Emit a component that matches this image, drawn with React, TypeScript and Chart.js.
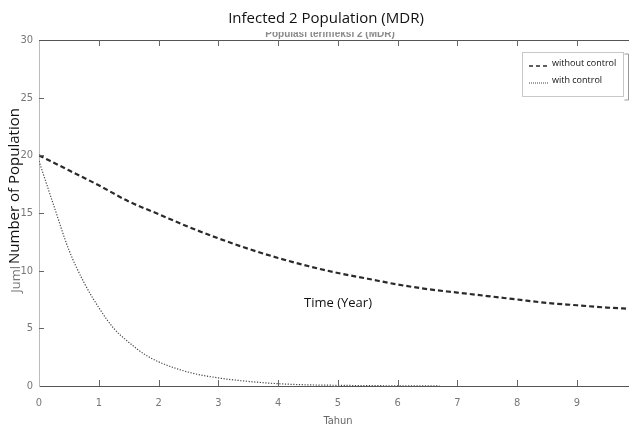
import React, { useEffect, useRef } from "react";
import { Chart, registerables } from "chart.js";

Chart.register(...registerables);

// ---- data ----
const yearsWithout = [0, 0.5, 1, 1.5, 2, 2.5, 3, 3.5, 4, 4.5, 5, 5.5, 6, 6.5, 7, 7.5, 8, 8.5, 9, 9.5, 9.87];
const withoutControl = [20.0, 18.7, 17.4, 16.0, 14.9, 13.8, 12.8, 11.9, 11.1, 10.4, 9.8, 9.3, 8.8, 8.4, 8.1, 7.8, 7.5, 7.2, 7.0, 6.8, 6.7];

const yearsWith = [0, 0.25, 0.5, 0.75, 1, 1.25, 1.5, 1.75, 2, 2.5, 3, 3.5, 4, 4.5, 5, 5.5, 6, 6.7];
const withControl = [19.5, 15.6, 11.8, 9.0, 6.8, 5.0, 3.8, 2.8, 2.1, 1.2, 0.7, 0.4, 0.2, 0.1, 0.06, 0.03, 0.02, 0.01];

const xTicks = [0, 1, 2, 3, 4, 5, 6, 7, 8, 9];
const yTicks = [0, 5, 10, 15, 20, 25, 30];

const seriesLabels = ["without control", "with control"];
const titleText = "Infected 2 Population (MDR)";
const oldTitleText = "Populasi terinfeksi 2 (MDR)";
const yTitleText = "Number of Population";
const oldYTitleText = "Juml";
const innerXTitle = "Time (Year)";
const xTitleText = "Tahun";

const X_MAX = 9.87;

const tickFont = "'Liberation Sans Narrow', 'DejaVu Sans Condensed', 'Liberation Sans', sans-serif";

const overlayPlugin = {
  id: "overlay",
  afterDraw(chart: any) {
    const { ctx, chartArea, scales } = chart;
    const { left, right, top, bottom } = chartArea;
    const xs = scales.x;
    const ys = scales.y;
    ctx.save();

    // top frame line
    ctx.strokeStyle = "#555";
    ctx.lineWidth = 1;
    ctx.beginPath();
    ctx.moveTo(left, top + 0.5);
    ctx.lineTo(right, top + 0.5);
    ctx.stroke();

    // inward tick marks
    ctx.strokeStyle = "#666";
    ctx.beginPath();
    xTicks.forEach((t) => {
      if (t === 0) return;
      const px = Math.round(xs.getPixelForValue(t)) + 0.5;
      ctx.moveTo(px, bottom);
      ctx.lineTo(px, bottom - 6);
      ctx.moveTo(px, top);
      ctx.lineTo(px, top + 6);
    });
    yTicks.forEach((t) => {
      if (t === 0 || t === 30) return;
      const py = Math.round(ys.getPixelForValue(t)) + 0.5;
      ctx.moveTo(left, py);
      ctx.lineTo(left + 5, py);
    });
    ctx.stroke();

    // faded old title (partly hidden)
    ctx.fillStyle = "#8a8a8a";
    ctx.font = "bold 10px 'Liberation Sans Narrow', 'Liberation Sans', sans-serif";
    ctx.textAlign = "center";
    ctx.textBaseline = "middle";
    ctx.fillText(oldTitleText, 330, 34);
    ctx.fillStyle = "#fff";
    ctx.fillRect(200, 24, 260, 8);

    // main title
    ctx.fillStyle = "#111";
    ctx.font = "15px 'Open Sans', sans-serif";
    ctx.textAlign = "center";
    ctx.textBaseline = "middle";
    ctx.fillText(titleText, 326, 19);

    // y titles (rotated)
    ctx.save();
    ctx.translate(15, 186);
    ctx.rotate(-Math.PI / 2);
    ctx.fillStyle = "#111";
    ctx.font = "15px 'Open Sans', sans-serif";
    ctx.textAlign = "center";
    ctx.textBaseline = "middle";
    ctx.fillText(yTitleText, 0, 0);
    ctx.fillStyle = "#777";
    ctx.font = "13px 'Open Sans', sans-serif";
    ctx.textAlign = "right";
    ctx.fillText(oldYTitleText, -80, 1);
    ctx.restore();

    // inner "Time (Year)"
    ctx.fillStyle = "#111";
    ctx.font = "13px 'Open Sans', sans-serif";
    ctx.textAlign = "center";
    ctx.textBaseline = "middle";
    ctx.fillText(innerXTitle, 338, 303);

    // bottom x title
    ctx.fillStyle = "#666";
    ctx.font = "11px " + tickFont;
    ctx.fillText(xTitleText, 338, 421);

    // legend
    const lx = 522, ly = 52, lw = 101, lh = 44;
    ctx.fillStyle = "#fff";
    ctx.fillRect(lx, ly, lw, lh);
    ctx.strokeStyle = "#c8c8c8";
    ctx.lineWidth = 1;
    ctx.strokeRect(lx + 0.5, ly + 0.5, lw, lh);
    // right bracket
    ctx.strokeStyle = "#999";
    ctx.beginPath();
    ctx.moveTo(624.5, 54);
    ctx.lineTo(628.5, 54);
    ctx.moveTo(628.5, 54);
    ctx.lineTo(628.5, 100);
    ctx.moveTo(624.5, 100);
    ctx.lineTo(628.5, 100);
    ctx.stroke();

    const ds = chart.data.datasets;
    const rows = [63, 80];
    rows.forEach((ry, i) => {
      ctx.save();
      ctx.strokeStyle = ds[i].borderColor;
      ctx.lineWidth = i === 0 ? 1.4 : 1;
      ctx.setLineDash(i === 0 ? [4, 3] : [1, 1]);
      ctx.beginPath();
      ctx.moveTo(529, ry + 3);
      ctx.lineTo(549, ry + 3);
      ctx.stroke();
      ctx.restore();
      ctx.fillStyle = "#111";
      ctx.font = "9px 'Open Sans', sans-serif";
      ctx.textAlign = "left";
      ctx.textBaseline = "middle";
      ctx.fillText(seriesLabels[i], 552, ry);
    });

    ctx.restore();
  },
};

export default function App() {
  const ref = useRef<HTMLCanvasElement | null>(null);

  useEffect(() => {
    if (!ref.current) return;
    const chart = new Chart(ref.current, {
      type: "line",
      data: {
        datasets: [
          {
            label: seriesLabels[0],
            data: yearsWithout.map((x, i) => ({ x, y: withoutControl[i] })),
            borderColor: "#2a2a2a",
            borderWidth: 2.2,
            borderDash: [5, 3],
            pointRadius: 0,
            cubicInterpolationMode: "monotone",
            fill: false,
          },
          {
            label: seriesLabels[1],
            data: yearsWith.map((x, i) => ({ x, y: withControl[i] })),
            borderColor: "#444",
            borderWidth: 1.2,
            borderDash: [1.2, 1.6],
            pointRadius: 0,
            cubicInterpolationMode: "monotone",
            fill: false,
          },
        ],
      },
      options: {
        animation: false,
        responsive: false,
        maintainAspectRatio: false,
        layout: { padding: { top: 40, left: 0, right: 0, bottom: 0 } },
        plugins: {
          legend: { display: false },
          title: { display: false },
          tooltip: { enabled: false },
        },
        scales: {
          x: {
            type: "linear",
            min: 0,
            max: X_MAX,
            afterBuildTicks: (s: any) => {
              s.ticks = xTicks.map((v) => ({ value: v }));
            },
            afterFit: (s: any) => {
              s.height = 43;
            },
            ticks: {
              color: "#777",
              font: { family: tickFont, size: 11 },
              padding: 11,
              maxRotation: 0,
              autoSkip: false,
            },
            grid: { display: false, drawTicks: false },
            border: { display: true, color: "#555", width: 1 },
          },
          y: {
            type: "linear",
            min: 0,
            max: 30,
            afterBuildTicks: (s: any) => {
              s.ticks = yTicks.map((v) => ({ value: v }));
            },
            afterFit: (s: any) => {
              s.width = 39;
            },
            ticks: {
              color: "#777",
              font: { family: tickFont, size: 11 },
              padding: 6,
            },
            grid: { display: false, drawTicks: false },
            border: { display: true, color: "#bbb", width: 1 },
          },
        },
      },
      plugins: [overlayPlugin],
    });
    return () => chart.destroy();
  }, []);

  return (
    <div style={{ position: "absolute", left: 0, top: 0, width: 629, height: 429, background: "#fff" }}>
      <canvas ref={ref} width={629} height={429} style={{ display: "block", width: 629, height: 429 }} />
    </div>
  );
}
